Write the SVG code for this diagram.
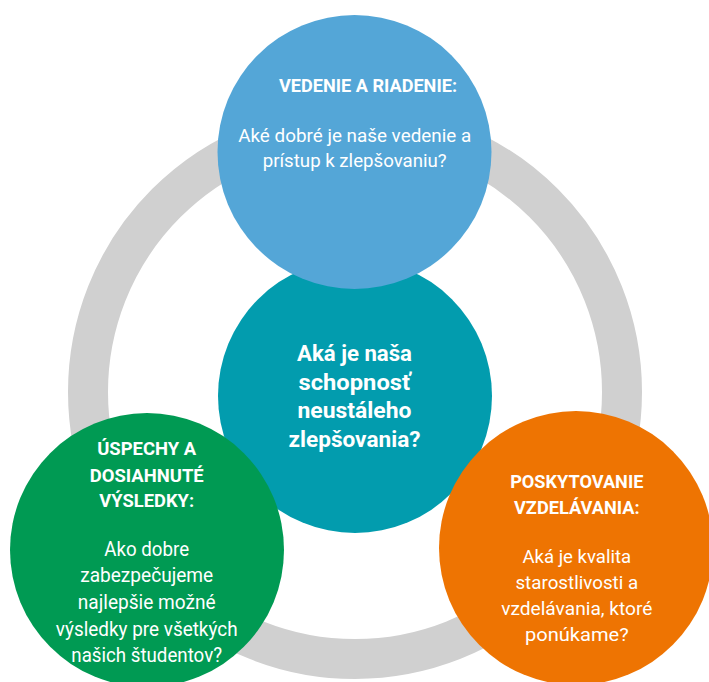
<svg xmlns="http://www.w3.org/2000/svg" width="709" height="682" viewBox="0 0 709 682">
<style>
text{font-family:Roboto,"Liberation Sans",sans-serif;fill:#ffffff;text-anchor:middle}
.t{font-weight:bold;font-size:18.5px}
.b{font-size:18.5px}
.c{font-weight:bold;font-size:22px}
</style>
<rect width="709" height="682" fill="#ffffff"/>
<g id="connectors">
<circle cx="355" cy="392" r="267" fill="none" stroke="#d0d0d0" stroke-width="40"/>
</g>
<g id="node-center">
<circle cx="355" cy="396" r="137" fill="#029cae"/>
<text class="c" x="354.5" y="361" textLength="115" lengthAdjust="spacingAndGlyphs">Aká je naša</text>
<text class="c" x="354.5" y="389.5" textLength="112" lengthAdjust="spacingAndGlyphs">schopnosť</text>
<text class="c" x="354.5" y="418" textLength="114" lengthAdjust="spacingAndGlyphs">neustáleho</text>
<text class="c" x="354.5" y="446.5" textLength="132" lengthAdjust="spacingAndGlyphs">zlepšovania?</text>
</g>
<g id="node-vedenie">
<circle cx="354.5" cy="152" r="137" fill="#54a6d7"/>
<text class="t" x="368" y="92" textLength="178" lengthAdjust="spacingAndGlyphs">VEDENIE A RIADENIE:</text>
<text class="b" x="354.7" y="141.7" textLength="233" lengthAdjust="spacingAndGlyphs">Aké dobré je naše vedenie a</text>
<text class="b" x="354.7" y="166.7" textLength="184" lengthAdjust="spacingAndGlyphs">prístup k zlepšovaniu?</text>
</g>
<g id="node-uspechy">
<circle cx="147" cy="550" r="137" fill="#009a53"/>
<text class="t" x="146.7" y="455" textLength="99" lengthAdjust="spacingAndGlyphs">ÚSPECHY A</text>
<text class="t" x="146.7" y="481.7" textLength="114" lengthAdjust="spacingAndGlyphs">DOSIAHNUTÉ</text>
<text class="t" x="146.7" y="507.3" textLength="94.7" lengthAdjust="spacingAndGlyphs">VÝSLEDKY:</text>
<text class="b" x="146.7" y="556" textLength="84.7" lengthAdjust="spacingAndGlyphs" style="font-size:19.5px">Ako dobre</text>
<text class="b" x="146.7" y="582.2" textLength="133" lengthAdjust="spacingAndGlyphs" style="font-size:19.5px">zabezpečujeme</text>
<text class="b" x="146.7" y="608.5" textLength="137.7" lengthAdjust="spacingAndGlyphs" style="font-size:19.5px">najlepšie možné</text>
<text class="b" x="146.7" y="635.5" textLength="181.7" lengthAdjust="spacingAndGlyphs" style="font-size:19.5px">výsledky pre všetkých</text>
<text class="b" x="146.7" y="661.5" textLength="150.7" lengthAdjust="spacingAndGlyphs" style="font-size:19.5px">našich študentov?</text>
</g>
<g id="node-poskytovanie">
<circle cx="576" cy="548" r="137" fill="#ee7402"/>
<text class="t" x="576.8" y="488.3" textLength="133.3" lengthAdjust="spacingAndGlyphs">POSKYTOVANIE</text>
<text class="t" x="576.8" y="514.3" textLength="125.7" lengthAdjust="spacingAndGlyphs">VZDELÁVANIA:</text>
<text class="b" x="576.8" y="563.3" textLength="108.7" lengthAdjust="spacingAndGlyphs">Aká je kvalita</text>
<text class="b" x="576.8" y="589.3" textLength="122.7" lengthAdjust="spacingAndGlyphs">starostlivosti a</text>
<text class="b" x="576.8" y="615" textLength="151.3" lengthAdjust="spacingAndGlyphs">vzdelávania, ktoré</text>
<text class="b" x="576.8" y="641.3" textLength="103.7" lengthAdjust="spacingAndGlyphs">ponúkame?</text>
</g>
</svg>
